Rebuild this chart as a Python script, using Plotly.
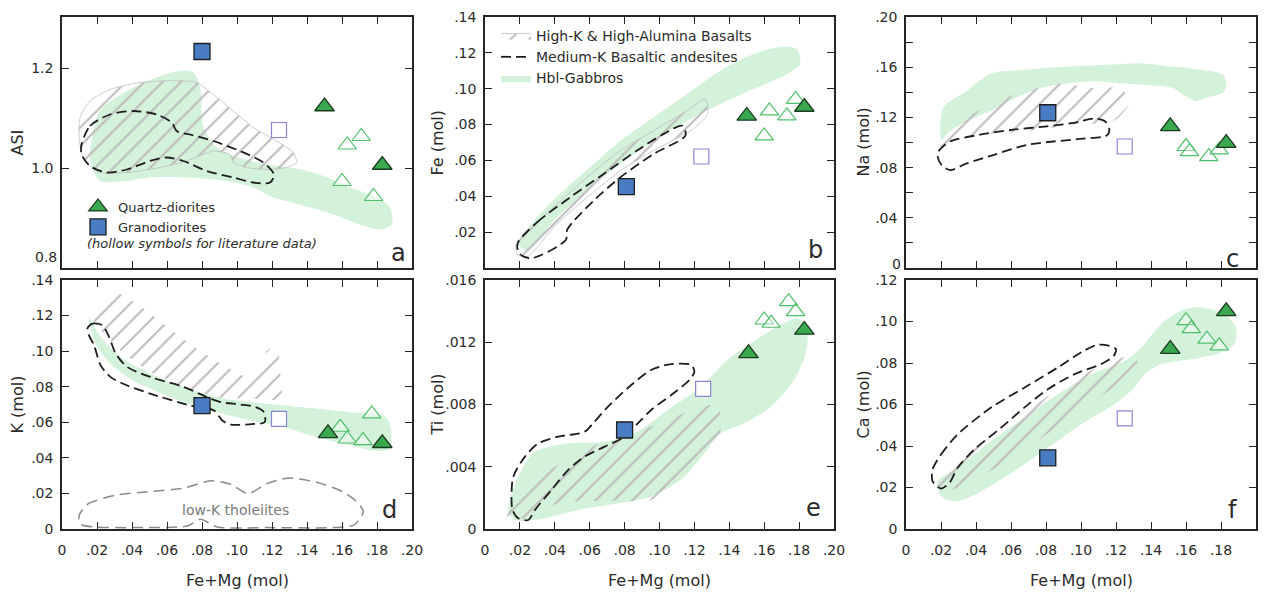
import plotly.graph_objects as go

W, H = 1264, 594

# ---------------- axes / ticks ----------------
X_TICKS = [0.00, 0.02, 0.04, 0.06, 0.08, 0.10, 0.12, 0.14, 0.16, 0.18, 0.20]
X_TICK_TEXT = ["0", ".02", ".04", ".06", ".08", ".10", ".12", ".14", ".16", ".18", ".20"]
X_TITLE = "Fe+Mg (mol)"

PANEL_LETTERS = ["a", "b", "c", "d", "e", "f"]
Y_TITLES = ["ASI", "Fe (mol)", "Na (mol)", "K (mol)", "Ti (mol)", "Ca (mol)"]
Y_RANGES = [[0.8, 1.302], [0, 0.14], [0, 0.20], [0, 0.14], [0, 0.016], [0, 0.12]]
Y_TICKS = [
    [0.8, 1.0, 1.2],
    [0, .02, .04, .06, .08, .10, .12, .14],
    [0, .02, .04, .06, .08, .10, .12, .14, .16, .18, .20],
    [0, .02, .04, .06, .08, .10, .12, .14],
    [0, .004, .008, .012, .016],
    [0, .02, .04, .06, .08, .10, .12],
]
Y_TICK_TEXT = [
    ["0.8", "1.0", "1.2"],
    ["", ".02", ".04", ".06", ".08", ".10", ".12", ".14"],
    ["0", "", ".04", "", ".08", "", ".12", "", ".16", "", ".20"],
    ["0", ".02", ".04", ".06", ".08", ".10", ".12", ".14"],
    ["0", ".004", ".008", ".012", ".016"],
    ["0", ".02", ".04", ".06", ".08", ".10", ".12"],
]
# bottom tick labels of the top row sit a little higher (to clear the row below)
RAISED_LABEL_SHIFT = [11, 0, 4, 0, 0, 0]

# ---------------- samples (per panel a..f) ----------------
QD_X = [[0.150, 0.183], [0.150, 0.183], [0.151, 0.183], [0.152, 0.183], [0.151, 0.183], [0.151, 0.183]]
QD_Y = [[1.123, 1.006], [0.0848, 0.0898], [0.1129, 0.0995], [0.0538, 0.0482], [0.01129, 0.01279], [0.0867, 0.1049]]
GD_X = [0.080, 0.081, 0.081, 0.080, 0.080, 0.081]
GD_Y = [1.233, 0.0454, 0.1237, 0.0694, 0.00636, 0.0343]
LIT_GD_X = [0.124, 0.124, 0.125, 0.124, 0.125, 0.125]
LIT_GD_Y = [1.076, 0.0622, 0.0968, 0.0619, 0.0090, 0.0533]
LIT_QD_X = [[0.160, 0.163, 0.171, 0.178], [0.160, 0.163, 0.173, 0.178], [0.160, 0.162, 0.173, 0.179],
            [0.159, 0.163, 0.172, 0.177], [0.160, 0.164, 0.174, 0.178], [0.160, 0.163, 0.172, 0.179]]
LIT_QD_Y = [[0.973, 1.046, 1.063, 0.943], [0.0737, 0.0876, 0.0848, 0.0940], [0.0968, 0.0927, 0.0887, 0.0941],
            [0.0572, 0.0506, 0.0497, 0.0647], [0.01343, 0.01322, 0.01461, 0.01397], [0.1004, 0.0966, 0.0915, 0.0883]]

# ---------------- field outlines (x, y) ----------------
HBL_A = [(0.0189, 0.987), (0.016, 1.021), (0.0217, 1.114), (0.037, 1.154), (0.054, 1.181), (0.0674, 1.194),
         (0.075, 1.191), (0.0789, 1.161), (0.081, 1.08), (0.089, 1.04), (0.102, 1.02), (0.117, 1.007),
         (0.132, 1.0), (0.147, 0.987), (0.1646, 0.961), (0.1798, 0.941), (0.1874, 0.921), (0.1884, 0.887),
         (0.1817, 0.877), (0.1703, 0.887), (0.155, 0.907), (0.136, 0.927), (0.1208, 0.941), (0.1093, 0.961),
         (0.0941, 0.974), (0.0712, 0.981), (0.0503, 0.981), (0.037, 0.974), (0.0217, 0.974)]
HKB_A = [(0.0103, 1.101), (0.016, 1.134), (0.0274, 1.157), (0.0446, 1.171), (0.0636, 1.175), (0.077, 1.171),
         (0.0865, 1.147), (0.0979, 1.114), (0.1093, 1.081), (0.1227, 1.054), (0.1322, 1.031), (0.1341, 1.011),
         (0.1284, 1.001), (0.117, 0.997), (0.1055, 1.001), (0.0979, 1.011), (0.096, 1.027), (0.0865, 1.034),
         (0.0712, 1.014), (0.056, 1.001), (0.037, 0.991), (0.0217, 0.991), (0.0131, 1.014), (0.0099, 1.054)]
MKB_A = [(0.0112, 1.047), (0.016, 1.084), (0.0274, 1.107), (0.0408, 1.114), (0.0541, 1.107), (0.0627, 1.091),
         (0.0655, 1.074), (0.0731, 1.067), (0.0865, 1.054), (0.1017, 1.034), (0.115, 1.011), (0.1211, 0.987),
         (0.1189, 0.971), (0.1093, 0.971), (0.0979, 0.981), (0.0827, 0.994), (0.0693, 1.014), (0.0598, 1.021),
         (0.0503, 1.014), (0.037, 0.997), (0.0255, 0.991), (0.016, 1.004), (0.0112, 1.027)]

HBL_B = [(0.0187, 0.0137), (0.0301, 0.0285), (0.0453, 0.0433), (0.0625, 0.0581), (0.0777, 0.0711),
         (0.0968, 0.0841), (0.1158, 0.097), (0.1349, 0.110), (0.1539, 0.1193), (0.1691, 0.1233),
         (0.1787, 0.122), (0.1806, 0.1137), (0.173, 0.1081), (0.1539, 0.0998), (0.1349, 0.0915),
         (0.1158, 0.0822), (0.0968, 0.0711), (0.0777, 0.0581), (0.0587, 0.0433), (0.0396, 0.0267),
         (0.0244, 0.010)]
HKB_B = [(0.0177, 0.0128), (0.0396, 0.0341), (0.0587, 0.0507), (0.0777, 0.0656), (0.0968, 0.0767),
         (0.1158, 0.0878), (0.1263, 0.0943), (0.1276, 0.0859), (0.1196, 0.0776), (0.0968, 0.0656),
         (0.0777, 0.0544), (0.0587, 0.0396), (0.0396, 0.023), (0.0244, 0.0063), (0.0187, 0.0072)]
MKB_B = [(0.0187, 0.0137), (0.0301, 0.0257), (0.0491, 0.0396), (0.0682, 0.0526), (0.0872, 0.0656),
         (0.1025, 0.0748), (0.113, 0.0794), (0.1149, 0.0739), (0.0968, 0.0637), (0.0777, 0.0507),
         (0.0625, 0.0378), (0.0472, 0.0215), (0.0463, 0.0156), (0.0263, 0.0054), (0.0196, 0.0081)]

HBL_C = [(0.0213, 0.1277), (0.0347, 0.1411), (0.048, 0.1546), (0.067, 0.1578), (0.0861, 0.160),
         (0.1051, 0.1613), (0.1242, 0.1626), (0.1337, 0.1632), (0.1528, 0.1605), (0.1718, 0.1573),
         (0.1813, 0.154), (0.1832, 0.1465), (0.1813, 0.1398), (0.1718, 0.1358), (0.1661, 0.1331),
         (0.1585, 0.1379), (0.1528, 0.1433), (0.1432, 0.1452), (0.1242, 0.147), (0.1051, 0.1487),
         (0.0861, 0.146), (0.0766, 0.1433), (0.067, 0.1384), (0.0575, 0.1317), (0.048, 0.125),
         (0.0347, 0.1169), (0.0251, 0.1089), (0.0204, 0.1022)]
HKB_C = [(0.0194, 0.0968), (0.0347, 0.1196), (0.0518, 0.1331), (0.069, 0.1411), (0.088, 0.147),
         (0.107, 0.1433), (0.1232, 0.1433), (0.1276, 0.1309), (0.1185, 0.1169), (0.0956, 0.1142),
         (0.0766, 0.1102), (0.0575, 0.1075), (0.0385, 0.1062), (0.0251, 0.0981)]
MKB_C = [(0.0185, 0.0927), (0.0251, 0.1008), (0.0423, 0.1062), (0.0613, 0.1102), (0.0804, 0.1129),
         (0.0956, 0.1156), (0.107, 0.1191), (0.1137, 0.1169), (0.1162, 0.1102), (0.1147, 0.1056),
         (0.1013, 0.103), (0.0842, 0.1008), (0.069, 0.0981), (0.0499, 0.090), (0.0347, 0.0833),
         (0.0251, 0.078), (0.0204, 0.082), (0.0181, 0.0887)]

HBL_D = [(0.0154, 0.1193), (0.0221, 0.1079), (0.0335, 0.0967), (0.0507, 0.0873), (0.0697, 0.0798),
         (0.0888, 0.0741), (0.1078, 0.0713), (0.1269, 0.0694), (0.1459, 0.0676), (0.165, 0.0657),
         (0.184, 0.0638), (0.1878, 0.0572), (0.1869, 0.045), (0.1783, 0.044), (0.165, 0.0469),
         (0.1459, 0.0516), (0.1269, 0.0572), (0.1078, 0.061), (0.0888, 0.0657), (0.0697, 0.0713),
         (0.0507, 0.0788), (0.0373, 0.0854), (0.0259, 0.0948), (0.0183, 0.1061)]
HKB_D = [(0.0173, 0.1193), (0.0259, 0.1287), (0.0316, 0.1325), (0.045, 0.125), (0.0602, 0.1137),
         (0.0754, 0.1024), (0.0907, 0.093), (0.1059, 0.0854), (0.1126, 0.0892), (0.1173, 0.1005),
         (0.123, 0.1014), (0.125, 0.0836), (0.125, 0.0732), (0.1097, 0.0732), (0.0888, 0.0741),
         (0.0697, 0.0798), (0.0507, 0.0883), (0.0354, 0.0986), (0.0259, 0.108), (0.0202, 0.1137)]
MKB_D = [(0.0145, 0.1127), (0.0173, 0.1155), (0.023, 0.1146), (0.0269, 0.108), (0.0307, 0.0986),
         (0.0373, 0.0911), (0.0507, 0.0854), (0.0697, 0.0798), (0.083, 0.0741), (0.0907, 0.0713),
         (0.1021, 0.070), (0.1107, 0.0685), (0.1154, 0.0657), (0.1158, 0.060), (0.1097, 0.0591),
         (0.0964, 0.0587), (0.0916, 0.061), (0.0869, 0.0666), (0.0735, 0.0694), (0.0507, 0.076),
         (0.0373, 0.0807), (0.0278, 0.0854), (0.0221, 0.092), (0.0183, 0.1033), (0.0154, 0.109)]
LKT_D = [(0.0097, 0.0073), (0.0145, 0.0139), (0.0316, 0.0192), (0.0507, 0.0211), (0.0697, 0.023),
         (0.085, 0.0271), (0.0964, 0.0252), (0.1063, 0.0199), (0.1173, 0.0256), (0.1288, 0.0286),
         (0.1459, 0.0262), (0.1592, 0.0215), (0.1678, 0.0158), (0.1722, 0.0098), (0.1669, 0.0023),
         (0.1554, 0.0008), (0.1173, 0.0008), (0.0888, 0.0011), (0.0792, 0.0055), (0.0716, 0.0017),
         (0.0411, 0.0008), (0.0183, 0.0011), (0.0107, 0.0026)]
LKT_LABEL = "low-K tholeiites"
LKT_LABEL_XY = (0.099, 0.0105)

HBL_E = [(0.0133, 0.00101), (0.019, 0.00336), (0.0286, 0.00497), (0.0476, 0.0055), (0.0686, 0.00561),
         (0.0857, 0.00615), (0.1048, 0.00765), (0.1238, 0.00915), (0.139, 0.01086), (0.1524, 0.01193),
         (0.1676, 0.0130), (0.179, 0.01354), (0.1844, 0.0130), (0.1838, 0.01129), (0.1771, 0.00957),
         (0.1638, 0.00786), (0.1486, 0.00679), (0.1352, 0.00615), (0.1257, 0.00486), (0.1143, 0.00336),
         (0.0952, 0.00208), (0.0762, 0.00165), (0.0533, 0.00122), (0.0343, 0.00069), (0.019, 0.00054)]
HKB_E = [(0.0124, 0.00069), (0.0171, 0.00186), (0.0305, 0.00336), (0.0476, 0.00443), (0.061, 0.00529),
         (0.0762, 0.00593), (0.0952, 0.00658), (0.1143, 0.00743), (0.1295, 0.00797), (0.1343, 0.00765),
         (0.1343, 0.00572), (0.1257, 0.00465), (0.1105, 0.00315), (0.0952, 0.00186), (0.0667, 0.00182),
         (0.0419, 0.00165), (0.0229, 0.00069)]
MKB_E = [(0.0152, 0.00186), (0.0162, 0.00336), (0.0229, 0.00465), (0.0305, 0.0055), (0.0419, 0.00593),
         (0.0571, 0.00625), (0.0619, 0.00679), (0.0705, 0.00786), (0.0838, 0.00925), (0.0952, 0.01022),
         (0.1067, 0.0106), (0.1181, 0.01054), (0.120, 0.01011), (0.1171, 0.00957), (0.1067, 0.00861),
         (0.0952, 0.00765), (0.0876, 0.00679), (0.080, 0.00593), (0.0686, 0.00529), (0.0571, 0.00465),
         (0.0476, 0.00379), (0.0381, 0.00251), (0.0286, 0.00122), (0.0248, 0.00058), (0.019, 0.00069),
         (0.0158, 0.00122)]

HBL_F = [(0.0181, 0.023), (0.0295, 0.0295), (0.0486, 0.0424), (0.0676, 0.0536), (0.0867, 0.0649),
         (0.1057, 0.0746), (0.1248, 0.081), (0.1343, 0.0875), (0.1457, 0.0987), (0.1571, 0.1052),
         (0.1686, 0.1068), (0.1819, 0.1036), (0.1886, 0.0971), (0.1876, 0.0891), (0.180, 0.0851),
         (0.1629, 0.0818), (0.1457, 0.0794), (0.1362, 0.0746), (0.1305, 0.0681), (0.119, 0.0601),
         (0.100, 0.0504), (0.081, 0.0391), (0.0619, 0.0279), (0.0429, 0.0182), (0.0295, 0.0134),
         (0.020, 0.0158)]
HKB_F = [(0.0162, 0.023), (0.0257, 0.0311), (0.0448, 0.0424), (0.0638, 0.0536), (0.0829, 0.0649),
         (0.1019, 0.0746), (0.119, 0.0818), (0.1305, 0.0826), (0.1333, 0.0778), (0.121, 0.0697),
         (0.1019, 0.0585), (0.0829, 0.0472), (0.0638, 0.0359), (0.0448, 0.0263), (0.0295, 0.0198),
         (0.020, 0.019)]
MKB_F = [(0.0152, 0.0287), (0.020, 0.0359), (0.0295, 0.0456), (0.0486, 0.0585), (0.0676, 0.0681),
         (0.0867, 0.0778), (0.100, 0.0851), (0.1095, 0.0888), (0.1162, 0.0883), (0.120, 0.0867),
         (0.1187, 0.0834), (0.1114, 0.0794), (0.0962, 0.0746), (0.081, 0.0673), (0.0676, 0.0585),
         (0.0543, 0.0488), (0.039, 0.0383), (0.0295, 0.0295), (0.0248, 0.0222), (0.020, 0.0195),
         (0.0152, 0.023)]

HBL = [HBL_A, HBL_B, HBL_C, HBL_D, HBL_E, HBL_F]
HKB = [HKB_A, HKB_B, HKB_C, HKB_D, HKB_E, HKB_F]
MKB = [MKB_A, MKB_B, MKB_C, MKB_D, MKB_E, MKB_F]

LEG_HKB = "High-K & High-Alumina Basalts"
LEG_MKB = "Medium-K Basaltic andesites"
LEG_HBL = "Hbl-Gabbros"
LEG_QD = "Quartz-diorites"
LEG_GD = "Granodiorites"
LEG_NOTE = "(hollow symbols for literature data)"

# ---------------- styling ----------------
FONT = "DejaVu Sans"
FRAME = "#262626"
TXT = "#2b2b2b"
GREEN_FILL = "rgba(205,238,212,0.85)"
HATCH = "#bcbcbc"
COL_X = [(62, 412), (485, 834), (906, 1256)]
ROW_Y = [(17, 268), (280, 529)]
LETTER_POS = [(0.960, 0.060), (0.946, 0.072), (0.934, 0.035), (0.937, 0.076), (0.940, 0.084), (0.934, 0.076)]

fig = go.Figure()


def closed(pts):
    xs = [p[0] for p in pts] + [pts[0][0]]
    ys = [p[1] for p in pts] + [pts[0][1]]
    return xs, ys


for i in range(6):
    n = "" if i == 0 else str(i + 1)
    ax = dict(xaxis="x" + n, yaxis="y" + n)
    # Hbl-gabbro field
    xs, ys = closed(HBL[i])
    fig.add_trace(go.Scatter(x=xs, y=ys, mode="lines", fill="toself", fillcolor=GREEN_FILL,
                             line=dict(width=0, shape="spline", smoothing=0.8, color=GREEN_FILL),
                             name=LEG_HBL, showlegend=(i == 1), legend="legend2", legendrank=3,
                             hoverinfo="skip", **ax))
    # High-K basalts (hatched)
    xs, ys = closed(HKB[i])
    fig.add_trace(go.Scatter(x=xs, y=ys, mode="lines", fill="toself", fillcolor="rgba(0,0,0,0)",
                             fillpattern=dict(shape="/", fgcolor=HATCH, size=13, solidity=0.16,
                                              fillmode="replace"),
                             line=dict(width=1 if i < 2 else 0, shape="spline", smoothing=0.6,
                                       color="rgba(185,185,185,0.7)"),
                             name=LEG_HKB, showlegend=(i == 1), legend="legend2", legendrank=1,
                             hoverinfo="skip", **ax))
    # Medium-K basaltic andesites (dashed)
    xs, ys = closed(MKB[i])
    fig.add_trace(go.Scatter(x=xs, y=ys, mode="lines",
                             line=dict(width=1.8, color="#1e1e1e", dash="10px,5px", shape="spline", smoothing=0.8),
                             name=LEG_MKB, showlegend=(i == 1), legend="legend2", legendrank=2,
                             hoverinfo="skip", **ax))
    if i == 3:
        xs, ys = closed(LKT_D)
        fig.add_trace(go.Scatter(x=xs, y=ys, mode="lines",
                                 line=dict(width=1.5, color="#8a8a8a", dash="11px,6px", shape="spline", smoothing=0.7),
                                 showlegend=False, hoverinfo="skip", **ax))
    # literature symbols
    fig.add_trace(go.Scatter(x=LIT_QD_X[i], y=LIT_QD_Y[i], mode="markers",
                             marker=dict(symbol="triangle-up", size=16, color="rgba(255,255,255,0.35)",
                                         line=dict(color="#4fbf6c", width=1.2)),
                             showlegend=False, **ax))
    fig.add_trace(go.Scatter(x=[LIT_GD_X[i]], y=[LIT_GD_Y[i]], mode="markers",
                             marker=dict(symbol="square", size=15, color="white",
                                         line=dict(color="#8b86d4", width=1.2)),
                             showlegend=False, **ax))
    # this-study symbols
    fig.add_trace(go.Scatter(x=QD_X[i], y=QD_Y[i], mode="markers",
                             marker=dict(symbol="triangle-up", size=17, color="#3aa84e",
                                         line=dict(color="#1b3a20", width=1.3)),
                             name=LEG_QD, showlegend=(i == 0), legend="legend", **ax))
    fig.add_trace(go.Scatter(x=[GD_X[i]], y=[GD_Y[i]], mode="markers",
                             marker=dict(symbol="square", size=16, color="#4a7cc4",
                                         line=dict(color="#1e1e1e", width=1.3)),
                             name=LEG_GD, showlegend=(i == 0), legend="legend", **ax))

layout = dict(
    width=W, height=H, template="none",
    paper_bgcolor="white", plot_bgcolor="white",
    margin=dict(l=0, r=0, t=0, b=0),
    font=dict(family=FONT, color=TXT),
    showlegend=True,
    legend=dict(x=78 / W, y=1 - 192 / H, xanchor="left", yanchor="top", bgcolor="rgba(0,0,0,0)",
                font=dict(size=13, color=TXT, family=FONT), traceorder="normal"),
    legend2=dict(x=496 / W, y=1 - 20 / H, xanchor="left", yanchor="top", bgcolor="rgba(0,0,0,0)",
                 font=dict(size=14, color=TXT, family=FONT)),
)

annotations = []
for i in range(6):
    r, c = divmod(i, 3)
    n = "" if i == 0 else str(i + 1)
    x0, x1 = COL_X[c]
    y0, y1 = ROW_Y[r]
    ticktext = list(Y_TICK_TEXT[i])
    if RAISED_LABEL_SHIFT[i]:
        # lowest label drawn as a raised annotation so it clears the panel below
        annotations.append(dict(text=ticktext[0], x=x0 / W, y=Y_TICKS[i][0], xref="paper", yref="y" + n,
                                yshift=RAISED_LABEL_SHIFT[i], xshift=-3, showarrow=False,
                                xanchor="right", yanchor="middle",
                                font=dict(size=14, color=TXT, family=FONT)))
        ticktext[0] = ""
    layout["xaxis" + n] = dict(
        domain=[x0 / W, x1 / W], range=[0, 0.2], anchor="y" + n,
        tickmode="array", tickvals=X_TICKS, ticktext=X_TICK_TEXT, showticklabels=(r == 1),
        ticks="inside", ticklen=7, tickwidth=1.3, tickcolor=FRAME,
        showline=True, linecolor=FRAME, linewidth=1.6, mirror="ticks",
        showgrid=False, zeroline=False, ticklabelstandoff=7,
        tickfont=dict(size=14, color=TXT, family=FONT), fixedrange=True)
    layout["yaxis" + n] = dict(
        domain=[1 - y1 / H, 1 - y0 / H], range=Y_RANGES[i], anchor="x" + n,
        tickmode="array", tickvals=Y_TICKS[i], ticktext=ticktext,
        ticks="inside", ticklen=7, tickwidth=1.3, tickcolor=FRAME,
        showline=True, linecolor=FRAME, linewidth=1.6, mirror="ticks",
        showgrid=False, zeroline=False, ticklabelstandoff=4,
        tickfont=dict(size=14, color=TXT, family=FONT), fixedrange=True)
    # y title
    tx = [17, 437, 863][c]
    annotations.append(dict(text=Y_TITLES[i], textangle=-90, x=tx / W, y=1 - (y0 + y1) / 2 / H,
                            xref="paper", yref="paper", showarrow=False, xanchor="center", yanchor="middle",
                            font=dict(size=16, color=TXT, family=FONT)))
    # panel letter
    annotations.append(dict(text=PANEL_LETTERS[i], x=LETTER_POS[i][0], y=LETTER_POS[i][1],
                            xref="x" + n + " domain", yref="y" + n + " domain", showarrow=False,
                            xanchor="center", yanchor="middle",
                            font=dict(size=24, color=TXT, family=FONT)))
    if r == 1:
        annotations.append(dict(text=X_TITLE, x=(x0 + x1) / 2 / W, y=1 - 580 / H, xref="paper", yref="paper",
                                showarrow=False, xanchor="center", yanchor="middle",
                                font=dict(size=16, color=TXT, family=FONT)))

annotations.append(dict(text="<i>" + LEG_NOTE + "</i>", x=85 / W, y=1 - 243 / H, xref="paper", yref="paper",
                        showarrow=False, xanchor="left", yanchor="middle",
                        font=dict(size=13, color=TXT, family=FONT)))
annotations.append(dict(text=LKT_LABEL, x=LKT_LABEL_XY[0], y=LKT_LABEL_XY[1], xref="x4", yref="y4",
                        showarrow=False, xanchor="center", yanchor="middle",
                        font=dict(size=14, color="#7a7a7a", family=FONT)))
layout["annotations"] = annotations

fig.update_layout(**layout)
fig.write_html("out.html", config={"displayModeBar": False},
               post_script="document.body.style.margin='0';document.body.style.overflow='hidden';")
